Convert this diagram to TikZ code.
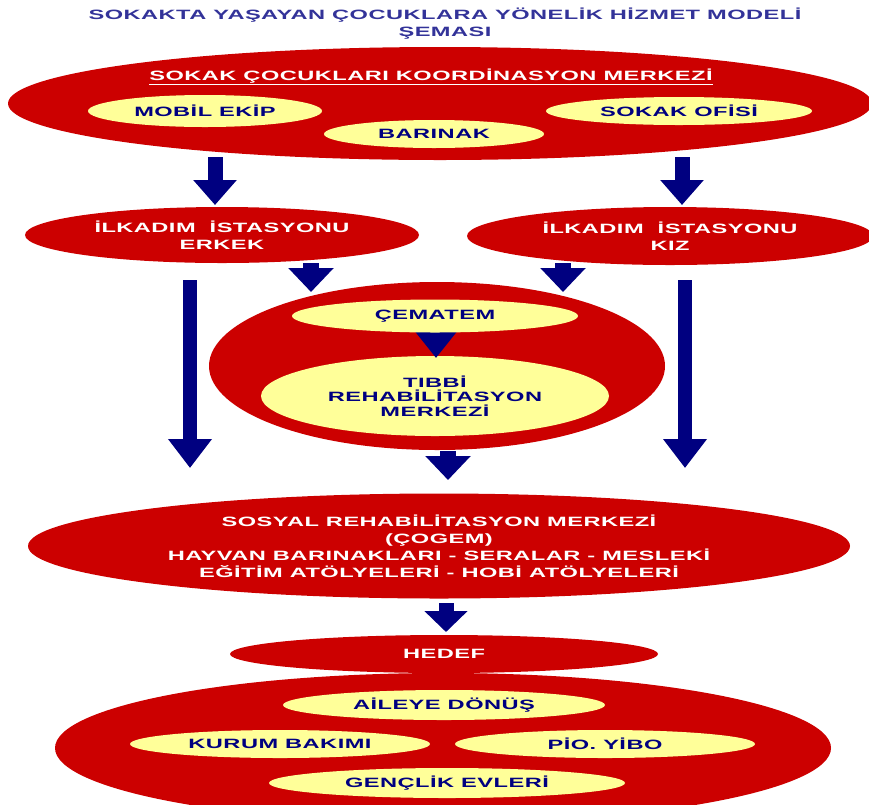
\documentclass[tikz,border=0pt]{standalone}
\usepackage{fontspec}
\setmainfont{Liberation Sans}
\newfontfamily\wide{Liberation Sans}[FakeStretch=1.75,LetterSpace=3.4]
\usetikzlibrary{shapes.geometric,arrows.meta}
\definecolor{cred}{HTML}{CC0000}
\definecolor{cyel}{HTML}{FFFF99}
\definecolor{cnavy}{HTML}{000080}
\definecolor{ctitle}{HTML}{333399}
\newcommand\txt{\wide\bfseries\fontsize{13.5}{17}\selectfont}
\tikzset{
  redell/.style={ellipse, fill=cred, inner sep=0pt, text=white, font=\txt, align=center},
  yelell/.style={ellipse, fill=cyel, inner sep=0pt, text=cnavy, font=\txt, align=center},
  barrow/.style={draw=cnavy, line width=15pt, -{Triangle[width=42pt,length=25pt]}},
  sarrow/.style={draw=cnavy, line width=16pt, -{Triangle[width=44pt,length=24pt]}},
  larrow/.style={draw=cnavy, line width=14pt, -{Triangle[width=42pt,length=29pt]}},
}
\begin{document}
\begin{tikzpicture}[x=1pt,y=-1pt]
\useasboundingbox (0,0) rectangle (869,804);
\clip (0,0) rectangle (869,804);

% title
\node[font=\txt, text=ctitle, align=center] (title) at (445,23.5)
  {SOKAKTA YAŞAYAN ÇOCUKLARA YÖNELİK HİZMET MODELİ\\ŞEMASI};

% top block
\node[redell, minimum width=864pt, minimum height=113pt] (top) at (440,103.5) {};
\node[font=\txt, text=white] (toptext) at (431,77) {\underline{SOKAK ÇOCUKLARI KOORDİNASYON MERKEZİ}};
\node[yelell, minimum width=234pt, minimum height=32pt] (mobil) at (205,111) {MOBİL EKİP};
\node[yelell, minimum width=266pt, minimum height=28pt] (ofis) at (679,111) {SOKAK OFİSİ};
\node[yelell, minimum width=220pt, minimum height=28pt] (barinak) at (434,134) {BARINAK};

% ilkadim
\node[redell, minimum width=394pt, minimum height=56pt] (erkek) at (222,235) {İLKADIM\ \ İSTASYONU\\ERKEK};
\node[redell, minimum width=406pt, minimum height=58pt] (kiz) at (670,236) {İLKADIM\ \ İSTASYONU\\KIZ};

% middle block
\node[redell, minimum width=456pt, minimum height=168pt] (mid) at (437,366) {};
\node[yelell, minimum width=348pt, minimum height=80pt, font=\wide\bfseries\fontsize{13.5}{14.5}\selectfont] (tibbi) at (435,396) {TIBBİ\\REHABİLİTASYON\\MERKEZİ};
\coordinate (ins) at (436,318);
\coordinate (ine) at (436,358);
\draw[draw=cnavy, line width=14pt, -{Triangle[width=41pt,length=27pt]}] (ins) -- (ine);
\node[yelell, minimum width=286pt, minimum height=33pt] (cematem) at (435,316) {ÇEMATEM};

% sosyal
\node[redell, minimum width=822pt, minimum height=105pt] (sosyal) at (439,546)
  {SOSYAL REHABİLİTASYON MERKEZİ\\(ÇOGEM)\\HAYVAN BARINAKLARI - SERALAR - MESLEKİ\\EĞİTİM ATÖLYELERİ - HOBİ ATÖLYELERİ};

% bottom
\node[redell, minimum width=776pt, minimum height=150pt] (bottom) at (443,748) {};
\node[redell, minimum width=428pt, minimum height=38pt] (hedef) at (444,654) {HEDEF};
\node[yelell, minimum width=322pt, minimum height=30pt] (aileye) at (444,705) {AİLEYE DÖNÜŞ};
\node[yelell, minimum width=300pt, minimum height=28pt] (kurum) at (280,744) {KURUM BAKIMI};
\node[yelell, minimum width=300pt, minimum height=28pt] (pio) at (605,744) {PİO. YİBO};
\node[yelell, minimum width=356pt, minimum height=30pt] (genclik) at (447,783) {GENÇLİK EVLERİ};

% arrows
\coordinate (a1s) at (215,157); \coordinate (a1e) at (215,205);
\coordinate (a2s) at (682,157); \coordinate (a2e) at (682,205);
\draw[barrow] (a1s) -- (a1e);
\draw[barrow] (a2s) -- (a2e);
\coordinate (s1s) at (311,263); \coordinate (s1e) at (311,292);
\coordinate (s2s) at (563,263); \coordinate (s2e) at (563,292);
\draw[sarrow] (s1s) -- (s1e);
\draw[sarrow] (s2s) -- (s2e);
\coordinate (l1s) at (190,280); \coordinate (l1e) at (190,468);
\coordinate (l2s) at (685,280); \coordinate (l2e) at (685,468);
\draw[larrow] (l1s) -- (l1e);
\draw[larrow] (l2s) -- (l2e);
\coordinate (ms) at (448,451); \coordinate (me) at (448,480);
\draw[sarrow] (ms) -- (me);
\coordinate (ns) at (446,603); \coordinate (ne) at (446,632);
\draw[draw=cnavy, line width=15pt, -{Triangle[width=42pt,length=21pt]}] (ns) -- (ne);
\end{tikzpicture}
\end{document}
